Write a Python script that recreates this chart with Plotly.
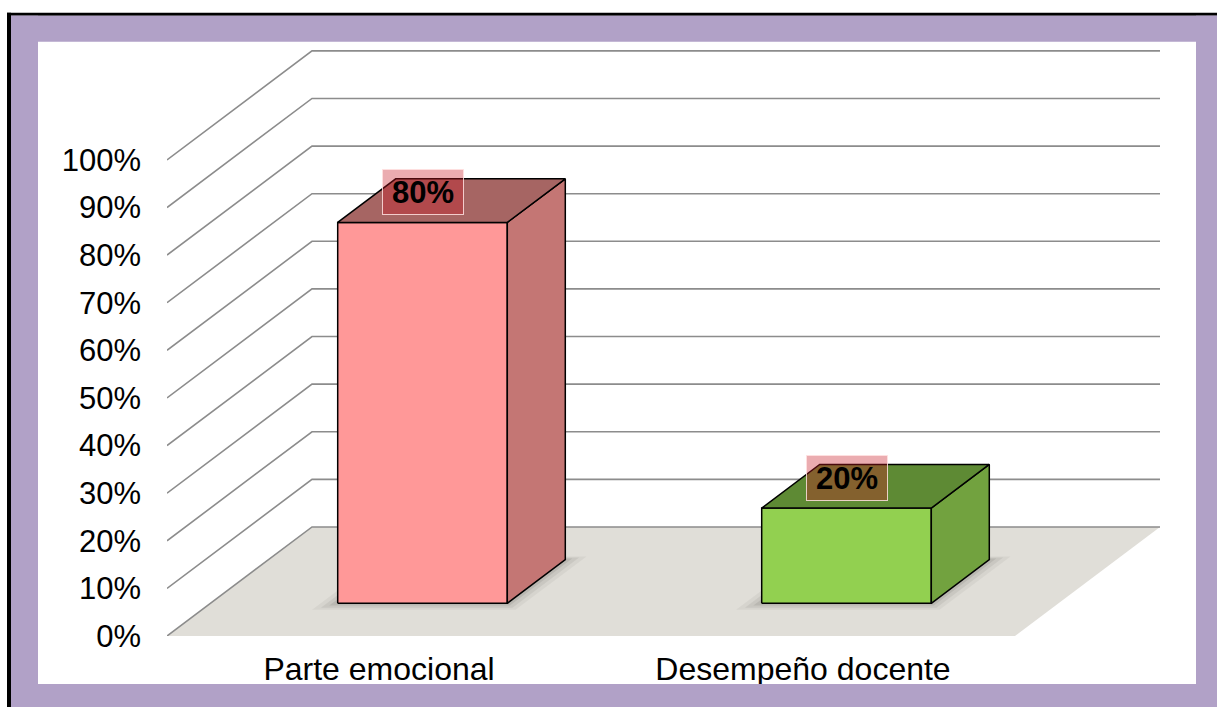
import plotly.graph_objects as go

# Data
categories = ["Parte emocional", "Desempeño docente"]
values = [0.80, 0.20]
value_labels = ["80%", "20%"]
tick_values = [0.0, 0.1, 0.2, 0.3, 0.4, 0.5, 0.6, 0.7, 0.8, 0.9, 1.0]
tick_labels = ["0%", "10%", "20%", "30%", "40%", "50%", "60%", "70%", "80%", "90%", "100%"]

# Colours per bar: front, side, top
front_colors = ["#FF9898", "#92D050"]
side_colors = ["#C47674", "#72A23F"]
top_colors = ["#A66563", "#5E8A34"]

# Page / projection geometry
W, H = 1217, 707
PX_X0 = 167.0          # pixel of x = -0.5 on the front plane
PX_PER_CAT = 424.0     # pixels per category unit
PY0 = 636.0            # pixel of y = 0 on the front plane
PX_PER_Y = 476.0       # pixels per 100 %
DX = 145.0 / PX_PER_CAT   # oblique depth offset (x units per unit depth)
DY = 109.0 / PX_PER_Y     # oblique depth offset (y units per unit depth)
X_MIN, X_MAX = -0.5, -0.5 + 993.0 / PX_PER_CAT
Y_MIN, Y_MAX = 0.0, 1.235

BAR_W = 0.40
D0, D1 = 0.30, 0.70    # bar depth span

margin_l = PX_X0
margin_r = W - (PX_X0 + (X_MAX - X_MIN) * PX_PER_CAT)
margin_b = H - PY0
margin_t = PY0 - (Y_MAX - Y_MIN) * PX_PER_Y

FONT = "Liberation Sans, Arial"

fig = go.Figure()

def poly(xs, ys, fill, line_color=None, line_width=0):
    fig.add_trace(go.Scatter(
        x=list(xs) + [xs[0]], y=list(ys) + [ys[0]],
        mode="lines", fill="toself", fillcolor=fill,
        line=dict(color=line_color or "rgba(0,0,0,0)", width=line_width),
        hoverinfo="skip", showlegend=False))

# Floor
poly([X_MIN, X_MIN + DX, X_MAX, X_MAX - DX],
     [0, DY, DY, 0], "#E0DED8")

# Back-wall gridlines with their oblique side segments
for v in tick_values:
    fig.add_trace(go.Scatter(
        x=[X_MIN, X_MIN + DX, X_MAX], y=[v, v + DY, v + DY],
        mode="lines", line=dict(color="#8C8C8C", width=1.6),
        hoverinfo="skip", showlegend=False))

# Soft floor shadows under the bars
for i, v in enumerate(values):
    for ex, ed, a in [(0.04, 0.06, 0.045), (0.026, 0.04, 0.06), (0.013, 0.02, 0.08)]:
        x0, x1 = i - BAR_W / 2 - ex, i + BAR_W / 2 + ex
        d0, d1 = D0 - ed, D1 + ed * 0.5
        poly([x0 + d0 * DX, x1 + d0 * DX, x1 + d1 * DX, x0 + d1 * DX],
             [d0 * DY, d0 * DY, d1 * DY, d1 * DY], f"rgba(0,0,0,{a})")

# 3-D bars: front, side and top faces
for i, v in enumerate(values):
    x0, x1 = i - BAR_W / 2, i + BAR_W / 2
    poly([x0 + D0 * DX, x1 + D0 * DX, x1 + D0 * DX, x0 + D0 * DX],
         [D0 * DY, D0 * DY, v + D0 * DY, v + D0 * DY],
         front_colors[i], "#000000", 1.5)
    poly([x1 + D0 * DX, x1 + D1 * DX, x1 + D1 * DX, x1 + D0 * DX],
         [D0 * DY, D1 * DY, v + D1 * DY, v + D0 * DY],
         side_colors[i], "#000000", 1.5)
    poly([x0 + D0 * DX, x1 + D0 * DX, x1 + D1 * DX, x0 + D1 * DX],
         [v + D0 * DY, v + D0 * DY, v + D1 * DY, v + D1 * DY],
         top_colors[i], "#000000", 1.5)
    fig.add_annotation(
        x=i + D0 * DX, y=v + D0 * DY, yshift=30.5,
        text=f"<b>{value_labels[i]}</b>", showarrow=False,
        font=dict(family=FONT, size=31, color="#000000"),
        bgcolor="rgba(200,25,35,0.36)", bordercolor="rgba(255,225,225,0.85)",
        borderwidth=1, borderpad=3, width=74, height=38)

# Purple frame with black edge, drawn above the axis labels
def px_rect(x0, y0, x1, y1, color):
    fig.add_shape(type="rect", xref="paper", yref="paper", layer="above",
                  x0=(x0 - margin_l) / (W - margin_l - margin_r),
                  x1=(x1 - margin_l) / (W - margin_l - margin_r),
                  y0=(H - margin_b - y0) / (H - margin_t - margin_b),
                  y1=(H - margin_b - y1) / (H - margin_t - margin_b),
                  fillcolor=color, line=dict(width=0))

PURPLE = "#B1A1C7"
px_rect(7, 13, W + 5, 16, "#000000")
px_rect(7, 13, 11, H + 5, "#000000")
px_rect(11, 16, W + 5, 42, PURPLE)
px_rect(11, 16, 38, H + 5, PURPLE)
px_rect(1196, 16, W + 5, H + 5, PURPLE)
px_rect(11, 684, W + 5, H + 5, PURPLE)

fig.update_layout(
    width=W, height=H,
    margin=dict(l=margin_l, r=margin_r, t=margin_t, b=margin_b, pad=0),
    paper_bgcolor="#FFFFFF", plot_bgcolor="#FFFFFF",
    showlegend=False,
    font=dict(family=FONT, size=31, color="#000000"),
    xaxis=dict(range=[X_MIN, X_MAX], tickvals=[0, 1], ticktext=categories,
               showgrid=False, zeroline=False, showline=False, ticks="",
               ticklabelstandoff=11, tickfont=dict(size=32), fixedrange=True),
    yaxis=dict(range=[Y_MIN, Y_MAX], tickvals=tick_values, ticktext=tick_labels,
               showgrid=False, zeroline=False, showline=False, ticks="",
               ticklabelstandoff=25, tickfont=dict(size=31), fixedrange=True),
)

fig.write_html("out.html")
